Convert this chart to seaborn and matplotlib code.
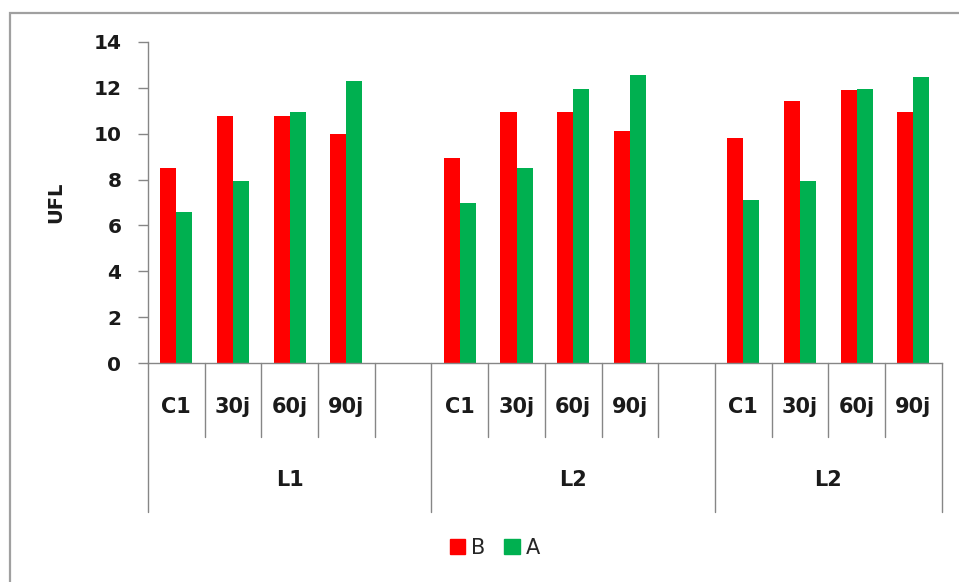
import matplotlib
matplotlib.use("Agg")
import matplotlib.pyplot as plt
import matplotlib.transforms as mtransforms
from matplotlib.patches import Rectangle
import pandas as pd
import seaborn as sns

# Data
groups = ["L1", "L2", "L2"]
periods = ["C1", "30j", "60j", "90j"]
series_names = ["B", "A"]
values_B = [8.5, 10.75, 10.75, 10.0,
            8.95, 10.95, 10.95, 10.1,
            9.8, 11.4, 11.9, 10.95]
values_A = [6.6, 7.95, 10.95, 12.3,
            7.0, 8.5, 11.95, 12.55,
            7.1, 7.95, 11.95, 12.45]
y_ticks = [0, 2, 4, 6, 8, 10, 12, 14]
y_label = "UFL"
colors = {"B": "#ff0000", "A": "#00b050"}

sns.set_theme(style="white")
plt.rcParams["font.family"] = ["DejaVu Sans"]

# Slot order: each group of periods followed by an empty slot (except the last)
order = []
slot_labels = []
group_spans = []
for gi, g in enumerate(groups):
    start = len(order)
    for p in periods:
        order.append(f"{gi}|{p}")
        slot_labels.append(p)
    if gi < len(groups) - 1:
        order.append(f"{gi}|gap")
        slot_labels.append("")
    group_spans.append((start, len(order)))

rows = []
for gi in range(len(groups)):
    for pi, p in enumerate(periods):
        k = gi * len(periods) + pi
        rows.append({"slot": f"{gi}|{p}", "series": "B", "value": values_B[k]})
        rows.append({"slot": f"{gi}|{p}", "series": "A", "value": values_A[k]})
df = pd.DataFrame(rows)

fig = plt.figure(figsize=(9.59, 5.82), dpi=100)
W, H = 959, 582
ax = fig.add_axes([148 / W, 1 - 363.3 / H, (941.7 - 148) / W, (363.3 - 41.7) / H])

sns.barplot(data=df, x="slot", y="value", hue="series", order=order,
            hue_order=series_names, palette=colors, width=0.565, gap=0,
            errorbar=None, saturation=1, linewidth=0, ax=ax, legend=False)

ax.set_xlim(-0.5, len(order) - 0.5)
ax.set_ylim(0, 14)
ax.set_yticks(y_ticks)
ax.set_yticklabels([str(t) for t in y_ticks], fontsize=14.5, fontweight="bold",
                   color="#1a1a1a")
ax.tick_params(axis="y", direction="out", length=7.2, width=1, color="#868686",
               left=True, pad=12)
ax.set_xticks([])
ax.set_xlabel("")
ax.set_ylabel(y_label, fontsize=14, fontweight="bold", color="#1a1a1a",
              labelpad=20)

for s in ["top", "right"]:
    ax.spines[s].set_visible(False)
for s in ["left", "bottom"]:
    ax.spines[s].set_color("#868686")
    ax.spines[s].set_linewidth(1)

trans = mtransforms.blended_transform_factory(ax.transData, ax.transAxes)
axis_h = 363.3 - 41.7
inner_drop = (436.7 - 363.3) / axis_h
outer_drop = (511.7 - 363.3) / axis_h
label_y = -(406.7 - 363.3) / axis_h
group_y = -(480 - 363.3) / axis_h

# Period labels
for i, lab in enumerate(slot_labels):
    if lab:
        ax.text(i, label_y, lab, transform=trans, ha="center", va="center",
                fontsize=15, fontweight="bold", color="#1a1a1a")

# Separators between slots
boundaries_outer = {s for s, e in group_spans} | {group_spans[-1][1]}
for b in range(len(order) + 1):
    x = b - 0.5
    drop = outer_drop if b in boundaries_outer else inner_drop
    ax.plot([x, x], [0, -drop], transform=trans, color="#868686", lw=1,
            clip_on=False)

# Group labels
for (s, e), g in zip(group_spans, groups):
    ax.text((s + e - 1) / 2, group_y, g, transform=trans, ha="center",
            va="center", fontsize=15, fontweight="bold", color="#1a1a1a")

# Legend
handles = [Rectangle((0, 0), 1, 1, color=colors[n]) for n in series_names]
fig.legend(handles, series_names, loc="center", bbox_to_anchor=(495 / W, 1 - 548 / H),
           ncol=2, frameon=False, fontsize=15, handlelength=0.75, handleheight=0.75,
           handletextpad=0.3, columnspacing=0.9)

# Chart-area frame
fig.patches.append(Rectangle((10 / W, -0.1), 1.2, 1 - 13 / H + 0.1,
                             transform=fig.transFigure, fill=False,
                             edgecolor="#a0a0a0", linewidth=1.6))

fig.savefig("out.png", dpi=100)
